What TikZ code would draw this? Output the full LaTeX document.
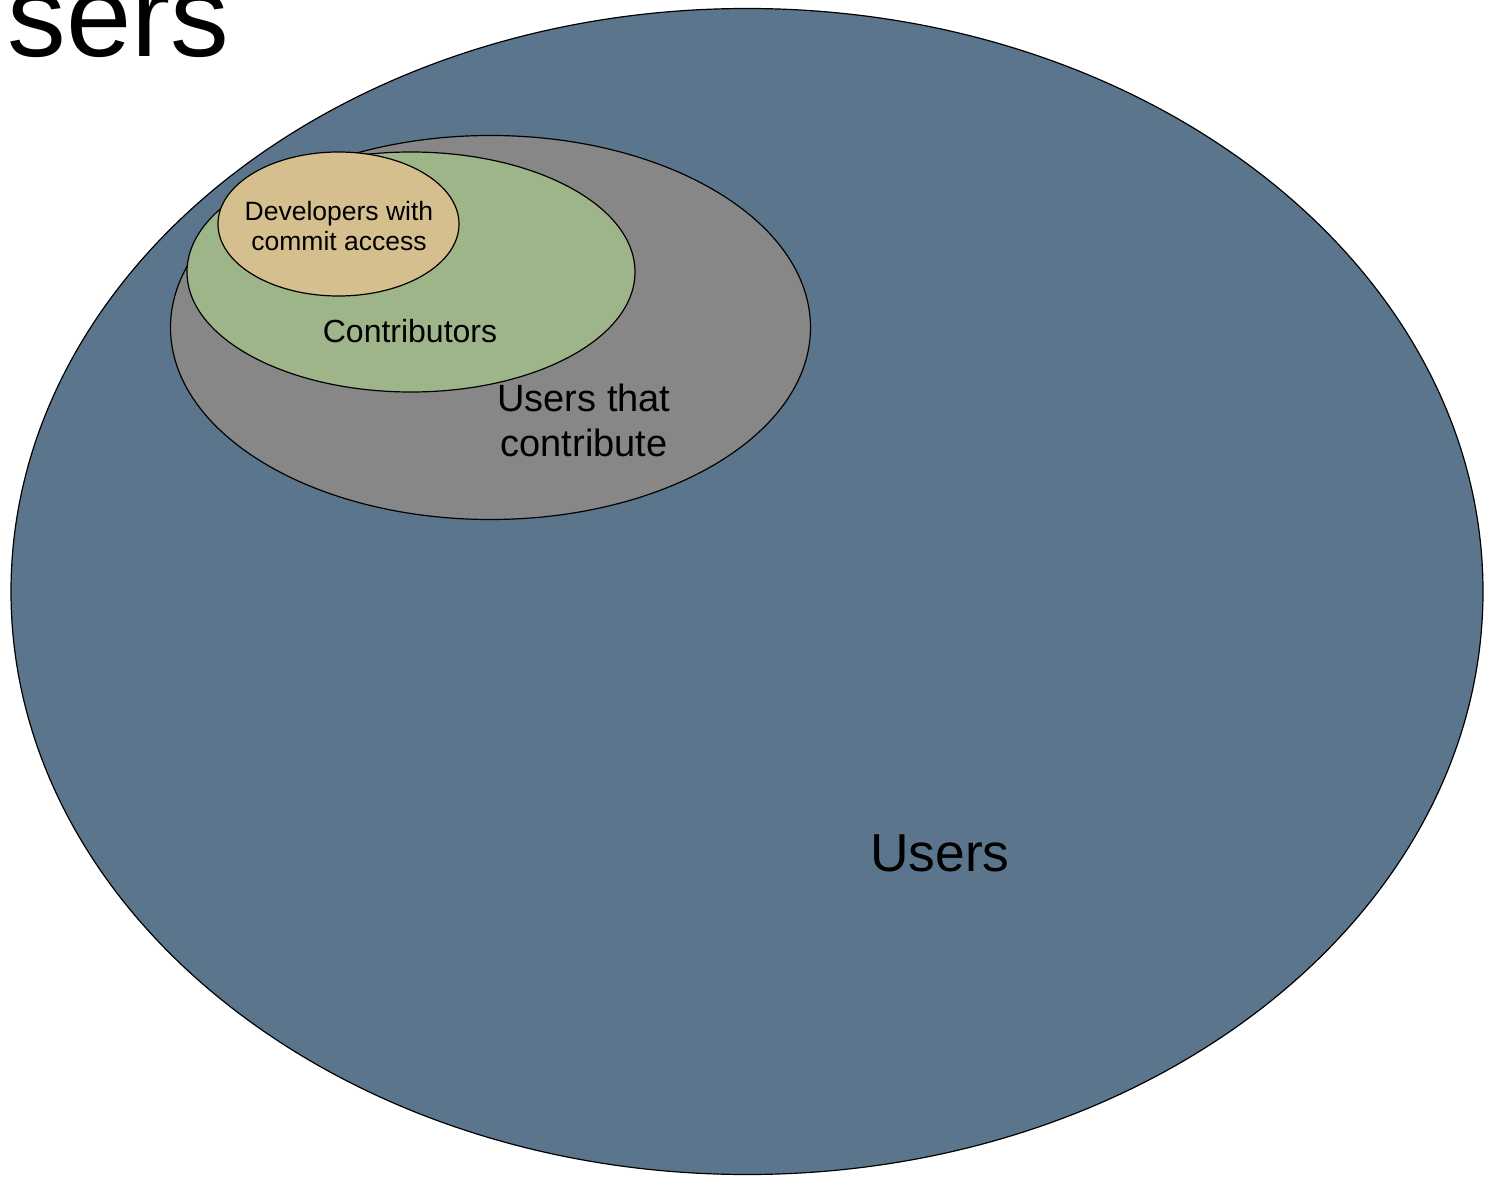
\documentclass[tikz,border=0pt]{standalone}
\usepackage{fontspec}
\setmainfont{Liberation Sans}
\usetikzlibrary{shapes.geometric}
\definecolor{usersblue}{RGB}{91,118,140}
\definecolor{contribgray}{RGB}{135,135,135}
\definecolor{contribgreen}{RGB}{158,180,137}
\definecolor{devtan}{RGB}{213,191,143}
\begin{document}
\begin{tikzpicture}[x=1pt,y=-1pt,
  setell/.style={ellipse, draw=black, line width=1.2pt, inner sep=0pt},
  lbl/.style={inner sep=0pt, text=black}]
\clip (0,0) rectangle (1492,1177);
\useasboundingbox (0,0) rectangle (1492,1177);
\node[setell, fill=usersblue, minimum width=1472pt, minimum height=1166pt] (users) at (747,591.5) {};
\node[setell, fill=contribgray, minimum width=640pt, minimum height=384pt] (utc) at (490.5,327.5) {};
\node[setell, fill=contribgreen, minimum width=448pt, minimum height=240pt] (contrib) at (411,272) {};
\node[setell, fill=devtan, minimum width=241pt, minimum height=144pt] (dev) at (338.5,224) {};
\node[lbl, anchor=base west, font=\fontsize{117.4}{130}\selectfont] (title) at (-77.4,57) {Users};
\node[lbl, anchor=base west, font=\fontsize{53.4}{60}\selectfont] (userslbl) at (870,871) {Users};
\node[lbl, align=center, font=\fontsize{38}{45}\selectfont] (utclbl) at (584,420) {Users that\\contribute};
\node[lbl, anchor=base, font=\fontsize{32}{36}\selectfont] (contriblbl) at (410,342) {Contributors};
\node[lbl, align=center, font=\fontsize{26.5}{30}\selectfont] (devlbl) at (339,226) {Developers with\\commit access};
\end{tikzpicture}
\end{document}
